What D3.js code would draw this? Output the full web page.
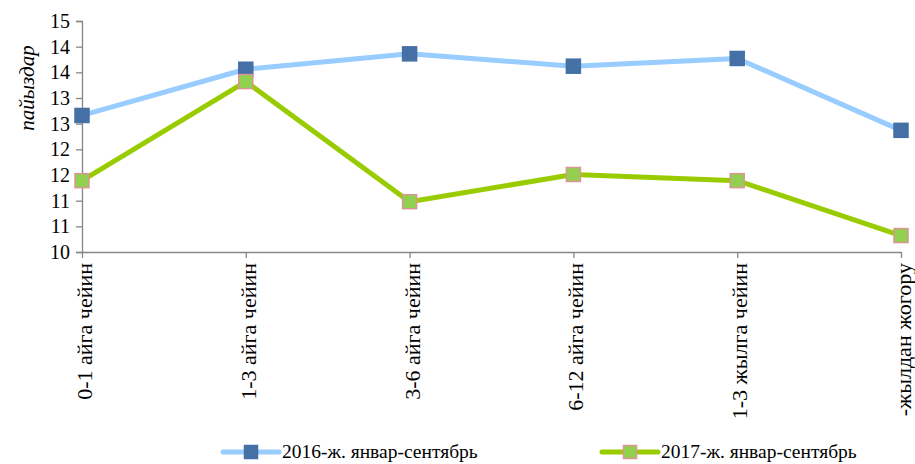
<!DOCTYPE html>
<html>
<head>
<meta charset="utf-8">
<script src="https://cdn.jsdelivr.net/npm/d3@7"></script>
<style>
  html, body { margin: 0; padding: 0; background: #fff; }
  svg { display: block; }
  svg text { font-family: "Liberation Serif", "DejaVu Serif", "Times New Roman", serif; }
</style>
</head>
<body>
<svg id="chart" width="915" height="464"></svg>
<script>
const categories = ["0-1 айга чейин", "1-3 айга чейин", "3-6 айга чейин", "6-12 айга чейин", "1-3 жылга чейин", "-жылдан жогору"];
const series2016 = [12.66, 13.56, 13.86, 13.62, 13.77, 12.37];
const series2017 = [11.39, 13.32, 10.98, 11.51, 11.39, 10.32];
const seriesNames = ["2016-ж. январ-сентябрь", "2017-ж. январ-сентябрь"];
const yTickValues = [10, 10.5, 11, 11.5, 12, 12.5, 13, 13.5, 14, 14.5];
const yTickLabels = ["10", "11", "11", "12", "12", "13", "13", "14", "14", "15"];
const yTitle = "пайыздар";

const svg = d3.select("#chart");
const plotLeft = 82, plotRight = 901, plotTop = 21, plotBottom = 252;
const axisColor = "#868686";

const x = d3.scalePoint().domain(categories).range([plotLeft, plotRight]).padding(0);
const y = d3.scaleLinear().domain([10, 14.5]).range([plotBottom, plotTop]);

// Y axis
const yAxis = d3.axisLeft(y).tickValues(yTickValues).tickSize(6).tickPadding(6)
  .tickFormat((d, i) => yTickLabels[i]);
const gy = svg.append("g").attr("transform", `translate(${plotLeft},0)`).call(yAxis);
gy.attr("font-family", null);
gy.select(".domain").attr("stroke", axisColor).attr("stroke-width", 1.3);
gy.selectAll(".tick line").attr("stroke", axisColor).attr("stroke-width", 1.3);
gy.selectAll(".tick text").attr("font-size", 20).attr("fill", "#000");

// X axis
const xAxis = d3.axisBottom(x).tickSize(6).tickSizeOuter(0).tickFormat("");
const gx = svg.append("g").attr("transform", `translate(0,${plotBottom})`).call(xAxis);
gx.select(".domain").attr("stroke", axisColor).attr("stroke-width", 1.3);
gx.selectAll(".tick line").attr("stroke", axisColor).attr("stroke-width", 1.3);

// Category labels (rotated)
svg.append("g").selectAll("text").data(categories).join("text")
  .attr("transform", d => `translate(${x(d) + 10},${plotBottom + 11}) rotate(-90)`)
  .attr("text-anchor", "end")
  .attr("font-size", 22)
  .attr("fill", "#000")
  .text(d => d);

// Y title
svg.append("text")
  .attr("transform", `translate(34,88) rotate(-90)`)
  .attr("text-anchor", "middle")
  .attr("font-style", "italic")
  .attr("font-size", 21)
  .attr("fill", "#000")
  .text(yTitle);

const line = d3.line().x((d, i) => x(categories[i])).y(d => y(d));

const styles = [
  { data: series2016, line: "#99CCFF", fill: "#4470A6", stroke: "#4470A6" },
  { data: series2017, line: "#99CC00", fill: "#92D050", stroke: "#D99694" }
];
const ms = 14;

styles.forEach(s => {
  svg.append("path").datum(s.data)
    .attr("d", line).attr("fill", "none")
    .attr("stroke", s.line).attr("stroke-width", 5).attr("stroke-linejoin", "round");
  svg.append("g").selectAll("rect").data(s.data).join("rect")
    .attr("x", (d, i) => x(categories[i]) - ms / 2)
    .attr("y", d => y(d) - ms / 2)
    .attr("width", ms).attr("height", ms)
    .attr("fill", s.fill).attr("stroke", s.stroke).attr("stroke-width", 1.5);
});

// Legend
const legendY = 452;
const legendX = [223, 602];
styles.forEach((s, i) => {
  const g = svg.append("g").attr("transform", `translate(${legendX[i]},${legendY})`);
  g.append("line").attr("x1", 0).attr("x2", 56).attr("y1", 0).attr("y2", 0)
    .attr("stroke", s.line).attr("stroke-width", 5).attr("stroke-linecap", "round");
  g.append("rect").attr("x", 28 - 6.5).attr("y", -6.5).attr("width", 13).attr("height", 13)
    .attr("fill", s.fill).attr("stroke", s.stroke).attr("stroke-width", 1.5);
  g.append("text").attr("x", 59).attr("y", 6).attr("font-size", 19.5).attr("fill", "#000")
    .text(seriesNames[i]);
});
</script>
</body>
</html>
